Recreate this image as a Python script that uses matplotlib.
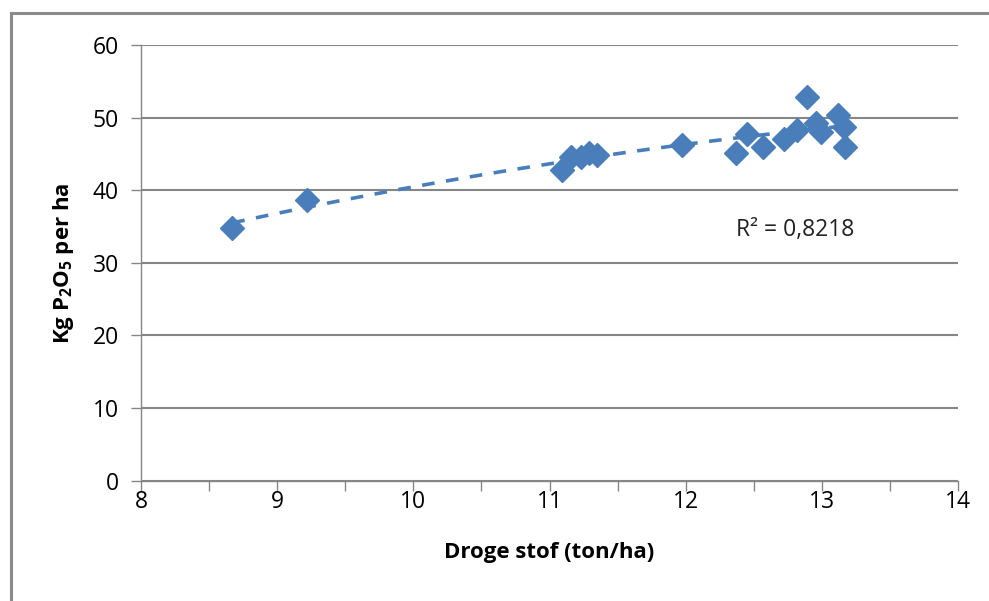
import numpy as np
import matplotlib
matplotlib.use('Agg')
import matplotlib.pyplot as plt
from matplotlib.lines import Line2D

# data
droge_stof = [8.67, 9.22, 11.09, 11.16, 11.23, 11.29, 11.35,
              11.97, 12.37, 12.45, 12.57, 12.72, 12.82, 12.89,
              12.96, 12.99, 13.12, 13.16, 13.17]
kg_p2o5 = [34.8, 38.6, 42.8, 44.6, 44.6, 45.1, 44.8,
           46.2, 45.1, 47.8, 46.0, 47.1, 48.3, 52.9,
           49.2, 48.0, 50.3, 48.7, 46.0]
r2_label = 'R² = 0,8218'

plt.rcParams['font.family'] = ['Open Sans', 'DejaVu Sans']
plt.rcParams['mathtext.fontset'] = 'custom'
plt.rcParams['mathtext.rm'] = 'Open Sans'
plt.rcParams['mathtext.bf'] = 'Open Sans:bold'

blue = '#4A7EBB'
grey = '#868686'

fig = plt.figure(figsize=(9.89, 6.01), dpi=100)
ax = fig.add_axes([0.1426, 0.2002, 0.9687 - 0.1426, 0.9251 - 0.2002])

# trendline (2nd order polynomial fitted to the points)
coef = np.polyfit(droge_stof, kg_p2o5, 2)
xs = np.linspace(min(droge_stof), max(droge_stof), 200)
ax.plot(xs, np.polyval(coef, xs), color=blue, lw=2.6, dashes=(3.5, 3.2), zorder=2)

ax.plot(droge_stof, kg_p2o5, linestyle='none', marker='D', markersize=12,
        color=blue, markeredgecolor=blue, zorder=3)

ax.text(12.37, 34.5, r2_label, fontsize=16.5, ha='left', va='center', color='#222222')

ax.set_xlim(8, 14)
ax.set_ylim(0, 60)
ax.set_xticks(range(8, 15))
ax.set_xticks(np.arange(8, 14.01, 0.5), minor=True)
ax.set_yticks(range(0, 61, 10))
ax.yaxis.grid(True, color=grey, lw=1.5)
ax.set_axisbelow(True)

for side in ['top', 'right']:
    ax.spines[side].set_visible(False)
for side in ['left', 'bottom']:
    ax.spines[side].set_color(grey)
    ax.spines[side].set_linewidth(1.0)

ax.tick_params(axis='both', which='both', direction='out', length=7, color=grey, width=1)
ax.tick_params(axis='x', labelsize=16.5, pad=0)
ax.tick_params(axis='y', labelsize=16.5, pad=9)

ax.set_xlabel('Droge stof (ton/ha)', fontsize=16, fontweight='bold', labelpad=20)
ax.set_ylabel(r'Kg P$_\mathbf{2}$O$_\mathbf{5}$ per ha', fontsize=16, fontweight='bold', labelpad=12)

# outer frame
fig.add_artist(Line2D([11 / 989, 11 / 989], [0, 1 - 13 / 601], transform=fig.transFigure, color='#8a8a8a', lw=2.2))
fig.add_artist(Line2D([11 / 989, 1], [1 - 13 / 601, 1 - 13 / 601], transform=fig.transFigure, color='#8a8a8a', lw=2.2))

fig.savefig('out.png', dpi=100)
